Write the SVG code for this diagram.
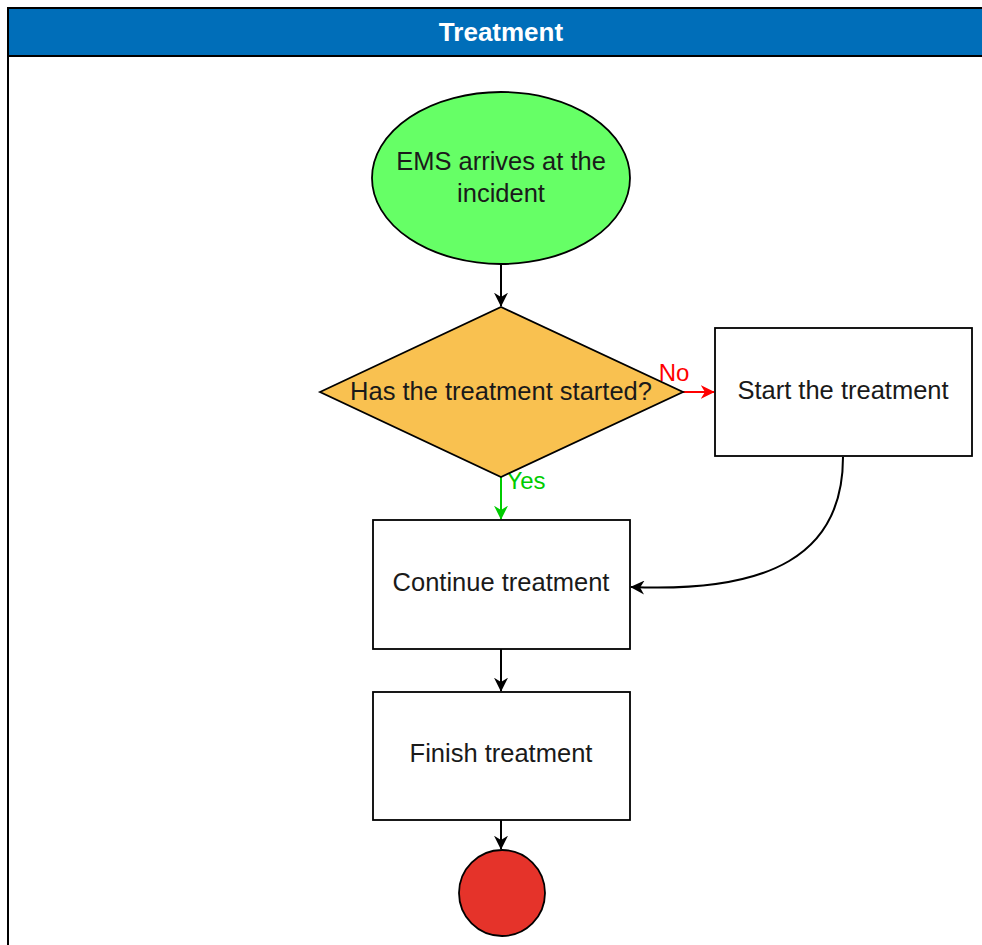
<svg xmlns="http://www.w3.org/2000/svg" width="982" height="945" viewBox="0 0 982 945">
  <style>
    .lbl { font-family: "Liberation Sans", Arial, sans-serif; font-size: 25.5px; fill: #1a1a1a; text-anchor: middle; }
    .shape { stroke: #000; stroke-width: 1.8; }
    .edge { fill: none; stroke-width: 2; }
    .elbl { font-family: "Liberation Sans", Arial, sans-serif; font-size: 24px; text-anchor: middle; }
  </style>
  <defs>
    <marker id="arrBlack" viewBox="0 0 10 10" refX="9.5" refY="5" markerWidth="14" markerHeight="14" markerUnits="userSpaceOnUse" orient="auto">
      <path d="M0,0 L10,5 L0,10 L3,5 Z" fill="#000"/>
    </marker>
    <marker id="arrRed" viewBox="0 0 10 10" refX="9.5" refY="5" markerWidth="14" markerHeight="14" markerUnits="userSpaceOnUse" orient="auto">
      <path d="M0,0 L10,5 L0,10 L3,5 Z" fill="#ff0000"/>
    </marker>
    <marker id="arrGreen" viewBox="0 0 10 10" refX="9.5" refY="5" markerWidth="14" markerHeight="14" markerUnits="userSpaceOnUse" orient="auto">
      <path d="M0,0 L10,5 L0,10 L3,5 Z" fill="#00cc00"/>
    </marker>
  </defs>

  <rect x="0" y="0" width="982" height="945" fill="#fff"/>

  <!-- swimlane frame -->
  <g id="lane">
    <rect x="8" y="8" width="990" height="960" fill="#fff" stroke="#000" stroke-width="2"/>
    <rect x="8" y="8" width="990" height="48" fill="#006eb9" stroke="#000" stroke-width="2"/>
    <text x="501" y="41" text-anchor="middle" font-family="Liberation Sans, Arial, sans-serif" font-size="26" font-weight="bold" fill="#fff">Treatment</text>
  </g>

  <!-- connectors -->
  <g id="connectors">
    <path class="edge" stroke="#000" d="M501,264 L501,306" marker-end="url(#arrBlack)"/>
    <path class="edge" stroke="#ff0000" d="M683,392 L714,392" marker-end="url(#arrRed)"/>
    <path class="edge" stroke="#00cc00" d="M501,477 L501,519" marker-end="url(#arrGreen)"/>
    <path class="edge" stroke="#000" d="M843,457 C843,555 770,593 631,587" marker-end="url(#arrBlack)"/>
    <path class="edge" stroke="#000" d="M501,649 L501,691" marker-end="url(#arrBlack)"/>
    <path class="edge" stroke="#000" d="M501,820 L501,849" marker-end="url(#arrBlack)"/>
    <!-- edge labels -->
    <rect x="657" y="361" width="36" height="24" fill="#fff"/>
    <text class="elbl" x="674" y="381" fill="#ff0000">No</text>
    <rect x="504" y="470" width="44" height="24" fill="#fff"/>
    <text class="elbl" x="526" y="489" fill="#00cc00">Yes</text>
  </g>

  <g id="start">
    <ellipse class="shape" cx="501" cy="178" rx="129" ry="86" fill="#66ff66"/>
    <text class="lbl" x="501" y="170">EMS arrives at the</text>
    <text class="lbl" x="501" y="202">incident</text>
  </g>

  <g id="decision">
    <polygon class="shape" points="320,392 501,307 683,392 501,477" fill="#f9c150"/>
    <text class="lbl" x="501" y="400">Has the treatment started?</text>
  </g>

  <g id="start-treatment">
    <rect class="shape" x="715" y="328" width="257" height="128" fill="#fff"/>
    <text class="lbl" x="843" y="399">Start the treatment</text>
  </g>

  <g id="continue-treatment">
    <rect class="shape" x="373" y="520" width="257" height="129" fill="#fff"/>
    <text class="lbl" x="501" y="591">Continue treatment</text>
  </g>

  <g id="finish-treatment">
    <rect class="shape" x="373" y="692" width="257" height="128" fill="#fff"/>
    <text class="lbl" x="501" y="762">Finish treatment</text>
  </g>

  <g id="end">
    <circle class="shape" cx="502" cy="893" r="43" fill="#e5332a"/>
  </g>
</svg>
